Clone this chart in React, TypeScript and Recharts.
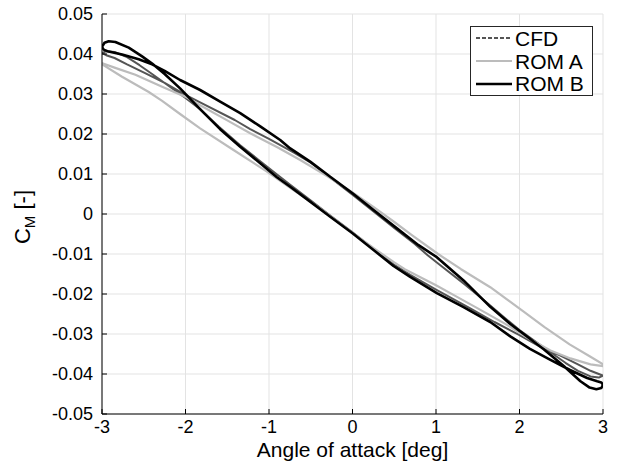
import React from "react";
import { LineChart, Line, XAxis, YAxis, CartesianGrid, Legend } from "recharts";

// ---- data (angle of attack [deg], C_M [-]) ----
const cfdLoop: [number, number][] = [
  [-3.0, 0.0402], [-2.95, 0.0407], [-2.85, 0.0405], [-2.7, 0.0392], [-2.55, 0.0372], [-2.4, 0.035],
  [-2.2, 0.032], [-2.0, 0.029], [-1.825, 0.0262], [-1.6, 0.0218], [-1.345, 0.0172], [-1.105, 0.0132],
  [-0.9, 0.0098], [-0.746, 0.0073], [-0.507, 0.0035], [-0.267, -0.0004], [0.0, -0.0046], [0.252, -0.0087],
  [0.491, -0.0126], [0.691, -0.0152], [1.0, -0.0189], [1.41, -0.0236], [1.7, -0.027], [2.0, -0.0303],
  [2.25, -0.0332], [2.49, -0.0354], [2.7, -0.0376], [2.85, -0.0392], [2.95, -0.04], [3.0, -0.0404],
  [2.95, -0.0409], [2.85, -0.0406], [2.7, -0.0392], [2.55, -0.0372], [2.4, -0.035], [2.2, -0.032],
  [2.0, -0.029], [1.825, -0.026], [1.6, -0.022], [1.345, -0.0176], [1.105, -0.0137], [0.9, -0.0103],
  [0.746, -0.0075], [0.507, -0.0036], [0.267, 0.0004], [0.0, 0.0048], [-0.252, 0.0089], [-0.491, 0.0127],
  [-0.691, 0.0152], [-1.0, 0.0188], [-1.225, 0.0212], [-1.41, 0.0235], [-1.825, 0.0279], [-2.0, 0.0298],
  [-2.25, 0.0328], [-2.49, 0.0353], [-2.7, 0.0374], [-2.85, 0.039], [-2.95, 0.0397], [-3.0, 0.0402],
];

const romALoop: [number, number][] = [
  [-3.05, 0.0381], [-2.85, 0.0366], [-2.6, 0.0348], [-2.28, 0.0318], [-1.97, 0.029], [-1.825, 0.0272],
  [-1.5, 0.0234], [-1.225, 0.0202], [-0.9, 0.0167], [-0.626, 0.0135], [-0.3, 0.0094], [0.0, 0.0054],
  [0.25, 0.0018], [0.5, -0.002], [0.707, -0.0052], [1.025, -0.01], [1.3, -0.0138], [1.65, -0.0183],
  [2.05, -0.0244], [2.3, -0.0283], [2.6, -0.0326], [2.85, -0.0357], [3.05, -0.0382],
  [2.85, -0.0376], [2.61, -0.0361], [2.37, -0.0341], [2.1, -0.031], [1.825, -0.0274], [1.5, -0.0236],
  [1.225, -0.0204], [1.0, -0.0178], [0.626, -0.0138], [0.5, -0.0121], [0.25, -0.0085], [0.0, -0.0047],
  [-0.4, 0.0016], [-0.707, 0.006], [-1.025, 0.0106], [-1.425, 0.016], [-1.825, 0.0214], [-2.065, 0.025],
  [-2.28, 0.0283], [-2.44, 0.0305], [-2.76, 0.0343], [-3.05, 0.0381],
];

const romBLoop: [number, number][] = [
  [-3.0, 0.0418], [-2.97, 0.0428], [-2.92, 0.0432], [-2.84, 0.043], [-2.68, 0.0416], [-2.52, 0.0394],
  [-2.4, 0.0376], [-2.25, 0.035], [-2.065, 0.0314], [-1.825, 0.0262], [-1.585, 0.0212], [-1.345, 0.0168],
  [-1.105, 0.0127], [-0.905, 0.0092], [-0.746, 0.0068], [-0.507, 0.0031], [-0.267, -0.0007], [0.0, -0.0048],
  [0.252, -0.009], [0.491, -0.013], [0.691, -0.0157], [1.01, -0.0198], [1.33, -0.0233], [1.65, -0.027],
  [1.89, -0.0306], [2.125, -0.0337], [2.365, -0.0364], [2.605, -0.039], [2.81, -0.041], [2.93, -0.0418],
  [2.98, -0.0421], [3.0, -0.0427],
  [2.98, -0.0435], [2.92, -0.0438], [2.84, -0.0434], [2.73, -0.0418], [2.53, -0.038], [2.29, -0.0338],
  [2.05, -0.03], [1.89, -0.0275], [1.65, -0.0232], [1.33, -0.0166], [1.01, -0.0108], [0.791, -0.0078],
  [0.532, -0.0036], [0.252, 0.001], [0.0, 0.0052], [-0.267, 0.0093], [-0.507, 0.0131], [-0.746, 0.0164],
  [-0.866, 0.0185], [-1.105, 0.0219], [-1.345, 0.0252], [-1.585, 0.0281], [-1.825, 0.031], [-2.065, 0.0335],
  [-2.25, 0.0358], [-2.4, 0.0374], [-2.56, 0.0387], [-2.76, 0.0399], [-2.92, 0.0406], [-2.98, 0.0411],
  [-3.0, 0.0418],
];

const xTicks = [-3, -2, -1, 0, 1, 2, 3];
const yTicks = [-0.05, -0.04, -0.03, -0.02, -0.01, 0, 0.01, 0.02, 0.03, 0.04, 0.05];

const seriesNames = ["CFD", "ROM A", "ROM B"];
const seriesColors = ["#555555", "#bcbcbc", "#000000"];
const seriesWidths = [2, 2.2, 2.6];
const legendDash = ["4 2", undefined, undefined];

const toPts = (arr: [number, number][]) => arr.map(([a, cm]) => ({ a, cm }));
const loops = [toPts(cfdLoop), toPts(romALoop), toPts(romBLoop)];

const FONT = "'Liberation Sans', Arial, Helvetica, sans-serif";
const TICK_FS = 18;
const Y_TICK_MARGIN = 9;
const X_TICK_MARGIN = 6;

const fmtY = (v: number) => (Math.abs(v) < 1e-9 ? "0" : v.toFixed(2));

const YTick = (props: any) => {
  const { x, y, payload } = props;
  const axisX = x + Y_TICK_MARGIN;
  return (
    <g>
      <line x1={axisX} x2={axisX + 5} y1={y} y2={y} stroke="#000" strokeWidth={1} />
      <text x={x} y={y} dy="0.36em" textAnchor="end" fontSize={TICK_FS} fontFamily={FONT} fill="#000">
        {fmtY(payload.value)}
      </text>
    </g>
  );
};

const XTick = (props: any) => {
  const { x, y, payload } = props;
  const axisY = y - X_TICK_MARGIN;
  return (
    <g>
      <line x1={x} x2={x} y1={axisY} y2={axisY - 5} stroke="#000" strokeWidth={1} />
      <text x={x} y={y} dy="0.73em" textAnchor="middle" fontSize={TICK_FS} fontFamily={FONT} fill="#000">
        {String(payload.value)}
      </text>
    </g>
  );
};

const XLabel = (props: any) => {
  const vb = props.viewBox || {};
  return (
    <text x={vb.x + vb.width / 2} y={vb.y + 43} textAnchor="middle" fontSize={21} fontFamily={FONT} fill="#000">
      Angle of attack [deg]
    </text>
  );
};

const YLabel = (props: any) => {
  const vb = props.viewBox || {};
  const cx = 30;
  const cy = vb.y + vb.height / 2 + 3;
  return (
    <text x={cx} y={cy} transform={`rotate(-90, ${cx}, ${cy})`} textAnchor="middle" fontSize={22} fontFamily={FONT} fill="#000">
      C
      <tspan fontSize={15} dy={5}>M</tspan>
      <tspan dy={-5}> [-]</tspan>
    </text>
  );
};

const LegendBox = () => (
  <div
    style={{
      border: "1px solid #262626",
      background: "#fff",
      width: 121,
      height: 68,
      fontFamily: FONT,
      fontSize: 21,
      color: "#000",
      boxSizing: "content-box",
      lineHeight: 1,
    }}
  >
    {seriesNames.map((n, i) => (
      <div key={n} style={{ height: 22.7, display: "flex", alignItems: "center" }}>
        <svg width={44} height={10} style={{ display: "block", flex: "none" }}>
          <line x1={5} x2={41} y1={5} y2={5} stroke={seriesColors[i]} strokeWidth={seriesWidths[i]} strokeDasharray={legendDash[i]} />
        </svg>
        <span style={{ whiteSpace: "nowrap" }}>{n}</span>
      </div>
    ))}
  </div>
);

export default function App() {
  return (
    <div style={{ position: "absolute", left: 0, top: 0, width: 618, height: 470, background: "#fff" }}>
      <LineChart width={618} height={470} margin={{ top: 14, right: 15, bottom: 16, left: 0 }}>
        <CartesianGrid stroke="#e3e3e3" strokeWidth={1} />
        <XAxis
          type="number"
          dataKey="a"
          domain={[-3, 3]}
          allowDataOverflow
          ticks={xTicks}
          interval={0}
          height={40}
          tickSize={0}
          tickLine={false}
          tickMargin={X_TICK_MARGIN}
          tick={<XTick />}
          axisLine={{ stroke: "#000", strokeWidth: 1 }}
          label={<XLabel />}
        />
        <YAxis
          type="number"
          dataKey="cm"
          domain={[-0.05, 0.05]}
          allowDataOverflow
          ticks={yTicks}
          interval={0}
          width={102}
          tickSize={0}
          tickLine={false}
          tickMargin={Y_TICK_MARGIN}
          tick={<YTick />}
          axisLine={{ stroke: "#000", strokeWidth: 1 }}
          label={<YLabel />}
        />
        {loops.map((d, i) => (
          <Line
            key={seriesNames[i]}
            name={seriesNames[i]}
            data={d}
            dataKey="cm"
            type="linear"
            stroke={seriesColors[i]}
            strokeWidth={seriesWidths[i]}
            dot={false}
            activeDot={false}
            isAnimationActive={false}
            strokeLinejoin="round"
          />
        ))}
        <Legend
          layout="horizontal"
          verticalAlign="middle"
          align="center"
          content={<LegendBox />}
          wrapperStyle={{ left: 470, top: 26, right: "auto", bottom: "auto", width: "auto", height: "auto" }}
        />
      </LineChart>
    </div>
  );
}
